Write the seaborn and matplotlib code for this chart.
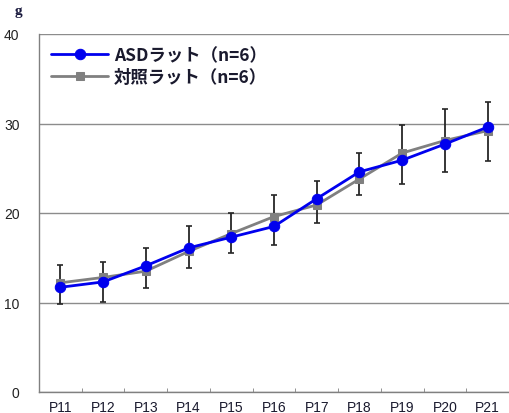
import numpy as np
import pandas as pd
import matplotlib
matplotlib.use("Agg")
from matplotlib import pyplot as plt
import seaborn as sns

days = ['P11', 'P12', 'P13', 'P14', 'P15', 'P16', 'P17', 'P18', 'P19', 'P20', 'P21']
asd = [11.7, 12.3, 14.1, 16.1, 17.3, 18.5, 21.6, 24.6, 25.9, 27.7, 29.6]
ctrl = [12.2, 12.8, 13.5, 15.7, 17.7, 19.6, 20.9, 23.8, 26.7, 28.1, 29.2]
# error bar ends
err_top = [14.2, 14.5, 16.1, 18.5, 20.0, 22.0, 23.6, 26.7, 29.8, 31.6, 32.4]
err_bottom = [9.8, 10.1, 11.6, 13.9, 15.5, 16.4, 18.9, 22.0, 23.2, 24.6, 25.8]

label_asd = 'ASDラット（n=6）'
label_ctrl = '対照ラット（n=6）'

sns.set_style('white')
plt.rcParams['font.family'] = ['Noto Sans CJK JP', 'DejaVu Sans']

df = pd.DataFrame({'day': days, 'asd': asd, 'ctrl': ctrl})

fig = plt.figure(figsize=(5.09, 4.14), dpi=100)
ax = fig.add_axes([39 / 509, 1 - 393 / 414, 470 / 509, 358 / 414])

# error bars (behind the lines)
mid = (np.array(err_top) + np.array(err_bottom)) / 2
yerr = [mid - np.array(err_bottom), np.array(err_top) - mid]
ax.errorbar(np.arange(len(days)), mid, yerr=yerr, fmt='none', ecolor='#262626',
            elinewidth=1.3, capsize=2.5, capthick=1.2, zorder=2)

sns.lineplot(data=df, x='day', y='ctrl', ax=ax, color='#808080', marker='s',
             markersize=6, markeredgecolor='#808080', linewidth=2, label=label_ctrl,
             zorder=3)
sns.lineplot(data=df, x='day', y='asd', ax=ax, color='#0000ee', marker='o',
             markersize=7.5, markeredgecolor='#0000ee', linewidth=2, label=label_asd,
             zorder=4)

ax.set_xlim(-0.5, len(days) - 0.5)
ax.set_ylim(0, 40)
ax.set_yticks([0, 10, 20, 30, 40])
ax.yaxis.grid(True, color='#8c8c8c', linewidth=1)
ax.set_axisbelow(True)
ax.set_xlabel('')
ax.set_ylabel('')

for s in ['top', 'right']:
    ax.spines[s].set_visible(False)
for s in ['left', 'bottom']:
    ax.spines[s].set_color('#808080')
    ax.spines[s].set_linewidth(1)

ax.set_xticks(np.arange(len(days)))
ax.set_xticklabels(days, fontsize=10, color='#1a1a2e', fontfamily=['Liberation Sans'])
ax.set_xticks(np.arange(len(days) - 1) + 0.5, minor=True)
ax.tick_params(axis='x', which='major', length=0, pad=6)
ax.tick_params(axis='x', which='minor', direction='in', length=3, color='#808080', bottom=True)
ax.tick_params(axis='y', length=0, pad=14)
for t in ax.get_yticklabels():
    t.set_fontsize(10)
    t.set_fontfamily(['Liberation Sans'])
    t.set_color('#222222')

handles, labels = ax.get_legend_handles_labels()
order = [labels.index(label_asd), labels.index(label_ctrl)]
ax.legend([handles[i] for i in order], [labels[i] for i in order], loc='upper left',
          bbox_to_anchor=(0.0, 1.0), frameon=False, handlelength=3.3,
          handletextpad=0.3, labelspacing=0.25, borderaxespad=0.2, borderpad=0.5,
          labelcolor='#1a1a2e', prop={'weight': 'bold', 'size': 12.5})

fig.text(15 / 509, 1 - 12 / 414, 'g', fontsize=11, fontweight='bold', color='#1a1a3e',
         ha='left', va='center', fontfamily=['Liberation Serif'])

fig.savefig('out.png', dpi=100)
